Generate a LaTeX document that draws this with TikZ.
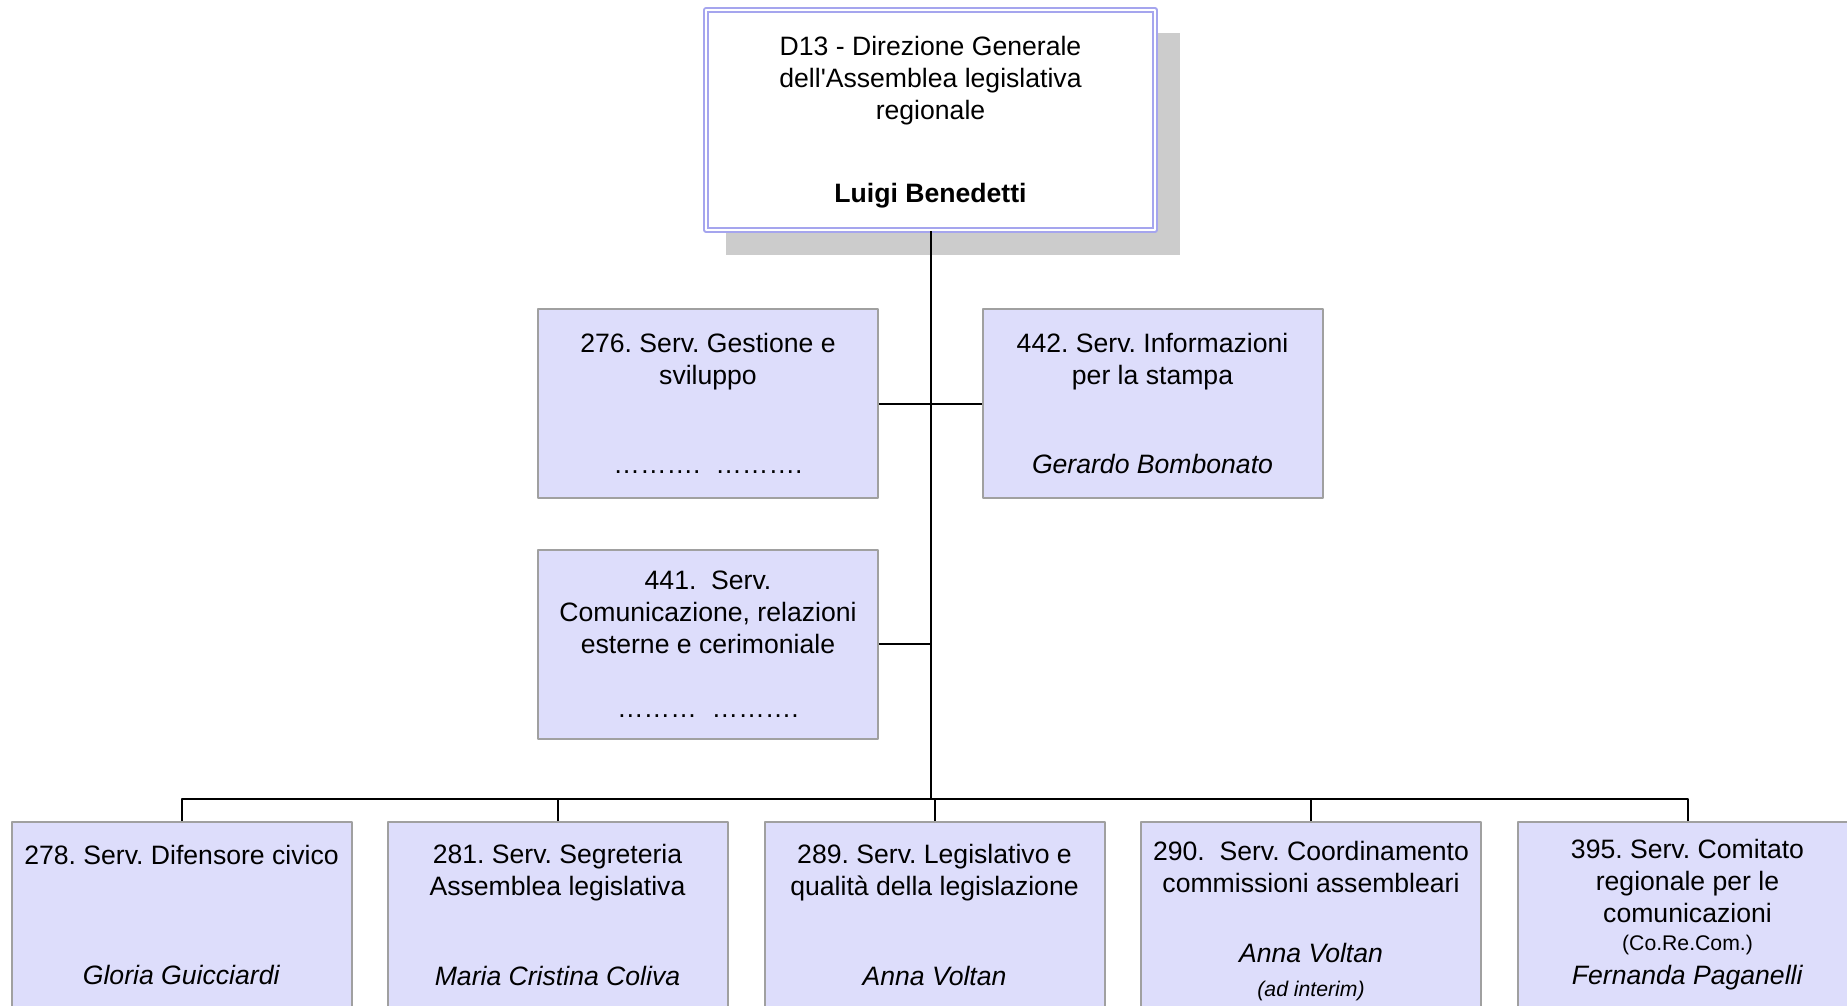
\documentclass[tikz,border=0pt]{standalone}
\usepackage{fontspec}
\setmainfont{Liberation Sans}
\usepackage{tikz}
\usetikzlibrary{shadows}
\frenchspacing

\definecolor{unitfill}{RGB}{221,221,251}
\definecolor{unitline}{RGB}{160,160,160}
\definecolor{topline}{RGB}{165,165,238}
\definecolor{shadowgray}{RGB}{204,204,204}

\begin{document}
\begin{tikzpicture}[x=0.5pt, y=-0.5pt, line join=round, line cap=round,
  every node/.style={font=\fontsize{13.3}{16}\selectfont, align=center, inner sep=0pt},
  unit/.style={draw=unitline, fill=unitfill, line width=1pt, minimum width=170pt, minimum height=94.5pt},
  lowunit/.style={unit, minimum height=93pt},
  topunit/.style={draw=topline, double=white, double distance=1pt, line width=1pt, fill=white,
    minimum width=224.5pt, minimum height=110pt,
    drop shadow={shadow xshift=11.25pt, shadow yshift=-11.75pt, shadow scale=1.01, fill=shadowgray, opacity=1}},
  link/.style={draw=black, line width=1pt, line cap=butt}]

  \useasboundingbox (0,0) rectangle (1847,1006);
  \def\smalltext{\fontsize{10.6}{12}\selectfont}

  % direction
  \node[topunit] (dg) at (930.5,120) {\rule{0pt}{12pt}D13 - Direzione Generale\\dell\textquotesingle Assemblea legislativa\\regionale\\[25.2pt]\textbf{Luigi Benedetti}};

  % staff services
  \node[unit] (s276) at (708,403.5) {276. Serv. Gestione e\\sviluppo\\[28.75pt]……….\ \ ……….};
  \node[unit] (s442) at (1152.5,403.5) {442. Serv. Informazioni\\per la stampa\\[28.75pt]\textit{Gerardo Bombonato}};
  \node[unit] (s441) at (708,644) {441.\ \ Serv.\\Comunicazione, relazioni\\esterne e cerimoniale\\[16.1pt]………\ \ ……….};

  % line services
  \node[lowunit] (b278) at (181.5,915) {278. Serv. Difensore civico\\[44pt]\textit{Gloria Guicciardi}};
  \node[lowunit] (b281) at (557.5,915) {281. Serv. Segreteria\\Assemblea legislativa\\[28.7pt]\textit{Maria Cristina Coliva}};
  \node[lowunit] (b289) at (934.5,915) {289. Serv. Legislativo e\\qualità della legislazione\\[28.7pt]\textit{Anna Voltan}};
  \node[lowunit] (b290) at (1311,915) {\rule{0pt}{15.5pt}290.\ \ Serv. Coordinamento\\commissioni assembleari\\[19pt]\textit{Anna Voltan}\\[1pt]{\smalltext\itshape (ad interim)}};
  \node[lowunit] (b395) at (1687.5,915) {395. Serv. Comitato\\regionale per le\\comunicazioni\\[-2pt]{\smalltext (Co.Re.Com.)}\\[1pt]\textit{Fernanda Paganelli}};

  % draw connectors
  \coordinate (bus) at (930,799);
  \draw[link] (dg.south) -- (dg.south |- bus);
  \draw[link] (s276.east) -- (s442.west);
  \draw[link] (s441.east) -- (s441.east -| dg.south);
  \foreach \b in {b278,b281,b289,b290,b395}
    \draw[link] (\b.north) |- (bus);

\end{tikzpicture}
\end{document}
